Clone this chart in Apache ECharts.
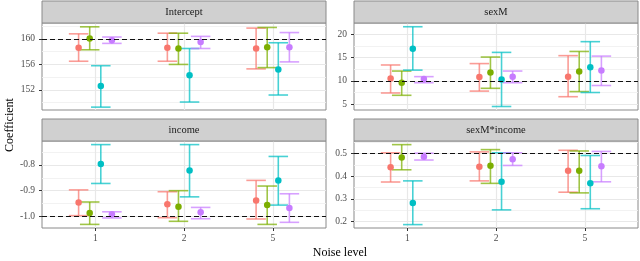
<!DOCTYPE html>
<html>
<head>
<meta charset="utf-8">
<script src="https://cdn.jsdelivr.net/npm/echarts@6/dist/echarts.min.js"></script>
<style>
html,body{margin:0;padding:0;background:#fff;}
#chart{width:640px;height:261px;}
</style>
</head>
<body>
<div id="chart"></div>
<script>
// ---- Data ----
const categories = ['1', '2', '5'];            // Noise level
const seriesNames = ['A', 'B', 'C', 'D'];
const seriesColors = ['#F8766D', '#7CAE00', '#00BFC4', '#C77CFF'];
const panelTitles = ['Intercept', 'sexM', 'income', 'sexM*income'];
const trueValues = [160, 10, -1.0, 0.5];

// each row = one series (A..D), columns = noise levels 1,2,5
const interceptEst = [[158.6, 158.6, 158.5], [160.05, 158.5, 158.7], [152.6, 154.3, 155.2], [159.8, 159.5, 158.7]];
const interceptLo  = [[156.5, 156.5, 155.3], [158.3, 156.0, 155.5], [149.3, 150.1, 151.2], [159.3, 158.5, 156.4]];
const interceptHi  = [[160.8, 160.9, 161.7], [161.9, 160.9, 161.8], [155.8, 158.5, 159.4], [160.3, 160.4, 161.0]];

const sexMEst = [[10.5, 10.8, 10.9], [9.6, 11.8, 12.0], [16.9, 10.3, 12.9], [10.4, 10.9, 12.2]];
const sexMLo  = [[7.4, 7.8, 6.6], [6.9, 8.4, 7.7], [12.3, 4.5, 7.5], [9.6, 9.6, 9.0]];
const sexMHi  = [[13.4, 13.7, 15.4], [12.1, 15.1, 16.3], [21.6, 16.1, 18.4], [10.9, 12.1, 15.3]];

const incomeEst = [[-0.946, -0.953, -0.938], [-0.987, -0.962, -0.956], [-0.796, -0.822, -0.860], [-0.992, -0.984, -0.967]];
const incomeLo  = [[-0.997, -1.005, -1.010], [-1.031, -1.019, -1.031], [-0.872, -0.924, -0.956], [-1.006, -1.009, -1.023]];
const incomeHi  = [[-0.897, -0.904, -0.860], [-0.944, -0.900, -0.882], [-0.721, -0.721, -0.767], [-0.982, -0.965, -0.912]];

const sexMIncomeEst = [[0.439, 0.441, 0.424], [0.482, 0.446, 0.424], [0.281, 0.375, 0.368], [0.485, 0.475, 0.444]];
const sexMIncomeLo  = [[0.374, 0.379, 0.329], [0.428, 0.368, 0.326], [0.186, 0.251, 0.256], [0.471, 0.447, 0.375]];
const sexMIncomeHi  = [[0.503, 0.507, 0.514], [0.539, 0.517, 0.511], [0.379, 0.503, 0.491], [0.501, 0.503, 0.509]];

// tick labels per panel
const interceptTicks = [152, 156, 160];
const sexMTicks = [5, 10, 15, 20];
const incomeTicks = [-1.0, -0.9, -0.8];
const sexMIncomeTicks = [0.2, 0.3, 0.4, 0.5];

// ---- Layout ----
const panels = [
  {est: interceptEst, lo: interceptLo, hi: interceptHi, ticks: interceptTicks, range: [148.85, 162.5], fmt: v => String(v)},
  {est: sexMEst, lo: sexMLo, hi: sexMHi, ticks: sexMTicks, range: [3.75, 22.4], fmt: v => String(v)},
  {est: incomeEst, lo: incomeLo, hi: incomeHi, ticks: incomeTicks, range: [-1.045, -0.707], fmt: v => v.toFixed(1)},
  {est: sexMIncomeEst, lo: sexMIncomeLo, hi: sexMIncomeHi, ticks: sexMIncomeTicks, range: [0.171, 0.555], fmt: v => v.toFixed(1)}
];
const gridBoxes = [
  {left: 42, top: 23, width: 284, height: 87},
  {left: 354, top: 23, width: 284, height: 87},
  {left: 42, top: 141, width: 284, height: 87},
  {left: 354, top: 141, width: 284, height: 87}
];
const stripH = 22;
const dodge = [-0.1875, -0.0625, 0.0625, 0.1875];
const capHalf = 0.11;
const FONT = '"Liberation Serif", "DejaVu Serif", serif';
const borderColor = '#8a8a8a';

function minorsOf(ticks, range) {
  const step = ticks[1] - ticks[0];
  const out = [];
  for (let k = -2; k < ticks.length + 2; k++) {
    const v = +(ticks[0] + (k + 0.5) * step).toFixed(6);
    if (v > range[0] && v < range[1]) out.push(v);
  }
  return out;
}

const grid = [], xAxis = [], yAxis = [], series = [], graphic = [];
panels.forEach((p, i) => {
  const g = gridBoxes[i];
  grid.push(Object.assign({show: true, backgroundColor: '#ffffff', borderColor: borderColor, borderWidth: 1, z: 0}, g));
  const bottomRow = i >= 2;
  xAxis.push({
    type: 'value', gridIndex: i, min: 0.4, max: 3.6,
    axisLine: {show: false},
    axisTick: {show: bottomRow, length: 3, customValues: [1, 2, 3], lineStyle: {color: '#333'}},
    axisLabel: {show: bottomRow, customValues: [1, 2, 3], margin: 5,
      formatter: v => categories[Math.round(v) - 1] || '',
      fontFamily: FONT, fontSize: 9.5, color: '#4d4d4d'},
    splitLine: {show: true, lineStyle: {color: '#e8e8e8', width: 1.2}}
  });
  yAxis.push({
    type: 'value', gridIndex: i, min: p.range[0], max: p.range[1],
    axisLine: {show: false},
    axisTick: {show: true, length: 3, customValues: p.ticks, lineStyle: {color: '#333'}},
    axisLabel: {show: true, customValues: p.ticks, margin: 7, formatter: v => p.fmt(v),
      fontFamily: FONT, fontSize: 9.5, color: '#4d4d4d'},
    splitLine: {show: true, lineStyle: {color: '#e8e8e8', width: 1.2}}
  });
  yAxis.push({
    type: 'value', gridIndex: i, min: p.range[0], max: p.range[1], position: 'left',
    axisLine: {show: false},
    axisTick: {show: false, customValues: minorsOf(p.ticks, p.range)},
    axisLabel: {show: false},
    splitLine: {show: true, lineStyle: {color: '#f1f1f1', width: 0.9}}
  });
  const yIdx = i * 2;
  p.est.forEach((row, s) => {
    const data = row.map((e, c) => [c + 1 + dodge[s], e, p.lo[s][c], p.hi[s][c]]);
    series.push({
      type: 'custom', name: seriesNames[s], xAxisIndex: i, yAxisIndex: yIdx, z: 3,
      data: data,
      renderItem: (params, api) => {
        const x = api.value(0), lo = api.value(2), hi = api.value(3);
        const a = api.coord([x, lo]), b = api.coord([x, hi]);
        const l1 = api.coord([x - capHalf, hi]), r1 = api.coord([x + capHalf, hi]);
        const l2 = api.coord([x - capHalf, lo]), r2 = api.coord([x + capHalf, lo]);
        const st = {stroke: seriesColors[s], lineWidth: 1.6, opacity: 0.72};
        return {type: 'group', children: [
          {type: 'line', shape: {x1: a[0], y1: a[1], x2: b[0], y2: b[1]}, style: st},
          {type: 'line', shape: {x1: l1[0], y1: l1[1], x2: r1[0], y2: r1[1]}, style: st},
          {type: 'line', shape: {x1: l2[0], y1: l2[1], x2: r2[0], y2: r2[1]}, style: st}
        ]};
      },
      silent: true, animation: false
    });
  });
  p.est.forEach((row, s) => {
    series.push({
      type: 'scatter', name: seriesNames[s], xAxisIndex: i, yAxisIndex: yIdx, z: 4,
      symbol: 'circle', symbolSize: 6.5,
      itemStyle: {color: seriesColors[s], opacity: 1},
      data: row.map((e, c) => [c + 1 + dodge[s], e]),
      silent: true, animation: false,
      markLine: s === 0 ? {
        silent: true, symbol: 'none', animation: false, z: 10,
        label: {show: false},
        lineStyle: {color: '#111', type: [5, 3], width: 1.2},
        data: [{yAxis: trueValues[i]}]
      } : undefined
    });
  });
  graphic.push({
    type: 'rect', z: 10,
    shape: {x: g.left, y: g.top - stripH, width: g.width, height: stripH},
    style: {fill: '#d0d0d0', stroke: borderColor, lineWidth: 1}
  });
  graphic.push({
    type: 'text', z: 11, x: g.left + g.width / 2, y: g.top - stripH / 2,
    style: {text: panelTitles[i], fill: '#1a1a1a', font: '10.5px ' + FONT, align: 'center', verticalAlign: 'middle'}
  });
});

graphic.push({
  type: 'text', x: 10, y: 125, rotation: Math.PI / 2,
  style: {text: 'Coefficient', fill: '#000', font: '12px ' + FONT, align: 'center', verticalAlign: 'middle'}
});
graphic.push({
  type: 'text', x: 340, y: 253,
  style: {text: 'Noise level', fill: '#000', font: '12px ' + FONT, align: 'center', verticalAlign: 'middle'}
});

const chart = echarts.init(document.getElementById('chart'), null, {renderer: 'canvas'});
chart.setOption({
  animation: false,
  backgroundColor: '#ffffff',
  grid: grid, xAxis: xAxis, yAxis: yAxis, series: series, graphic: graphic
});
</script>
</body>
</html>
